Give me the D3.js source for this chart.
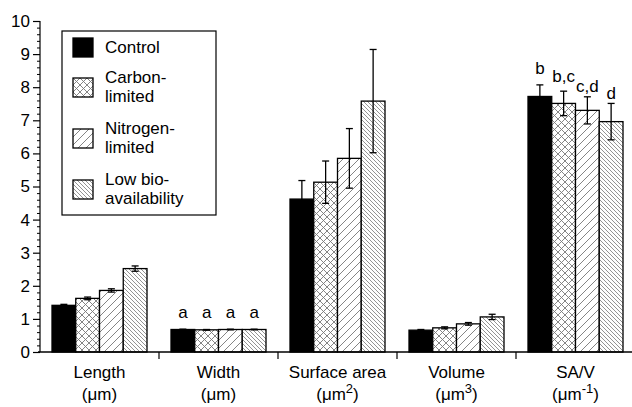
<!DOCTYPE html>
<html>
<head>
<meta charset="utf-8">
<script src="https://cdn.jsdelivr.net/npm/d3@7"></script>
<style>
  body { margin: 0; background: #fff; }
  svg { font-family: "Liberation Sans", Arial, Helvetica, sans-serif; }
</style>
</head>
<body>
<svg id="chart" width="632" height="407"></svg>
<script>
// data
const categories = ["Length", "Width", "Surface area", "Volume", "SA/V"];
const units = [["μm", ""], ["μm", ""], ["μm", "2"], ["μm", "3"], ["μm", "-1"]];
const series = ["Control", "Carbon-limited", "Nitrogen-limited", "Low bioavailability"];
const legendLines = [["Control"], ["Carbon-", "limited"], ["Nitrogen-", "limited"], ["Low bio-", "availability"]];

const control = [1.41, 0.68, 4.62, 0.66, 7.72];
const carbonLimited = [1.62, 0.67, 5.13, 0.73, 7.51];
const nitrogenLimited = [1.86, 0.68, 5.85, 0.85, 7.30];
const lowBio = [2.52, 0.68, 7.58, 1.06, 6.96];

const controlErr = [0.03, 0.01, 0.56, 0.02, 0.35];
const carbonErr = [0.04, 0.01, 0.64, 0.03, 0.37];
const nitrogenErr = [0.05, 0.01, 0.90, 0.04, 0.41];
const lowBioErr = [0.08, 0.01, 1.56, 0.08, 0.55];

const widthLetters = ["a", "a", "a", "a"];
const widthLetterLevel = [1.03, 1.03, 1.03, 1.03];
const savLetters = ["b", "b,c", "c,d", "d"];
const savLetterLevel = [8.4, 8.16, 7.85, 7.64];

const yTicks = [0, 1, 2, 3, 4, 5, 6, 7, 8, 9, 10];

const means = [control, carbonLimited, nitrogenLimited, lowBio];
const errs = [controlErr, carbonErr, nitrogenErr, lowBioErr];
const fills = ["#000", "url(#cross)", "url(#fwd)", "url(#back)"];
const fontSize = 17;

const svg = d3.select("#chart");
const defs = svg.append("defs");

// hatching
function pattern(id, size, paths, color) {
    const p = defs.append("pattern")
        .attr("id", id)
        .attr("patternUnits", "userSpaceOnUse")
        .attr("width", size)
        .attr("height", size);
    p.append("rect").attr("width", size).attr("height", size).attr("fill", "#fff");
    paths.forEach(d => p.append("path").attr("d", d)
        .attr("stroke", color).attr("stroke-width", 0.9).attr("fill", "none"));
}
pattern("cross", 7, ["M0,0L7,7M-1,6L1,8M6,-1L8,1", "M0,7L7,0M-1,1L1,-1M6,8L8,6"], "#777");
pattern("fwd", 8, ["M0,8L8,0M-2,2L2,-2M6,10L10,6"], "#777");
pattern("back", 4, ["M0,0L4,4M-1,3L1,5M3,-1L5,1"], "#888");

const y = d3.scaleLinear().domain([0, 10]).range([352, 21]);
const x0 = d3.scaleBand().domain(categories).range([40, 635]);
const x1 = d3.scaleBand().domain(series).range([12, 107]);

// bars
const groups = svg.append("g").selectAll("g")
    .data(categories)
    .join("g")
    .attr("transform", c => `translate(${x0(c)},0)`);

groups.selectAll("rect")
    .data((c, ci) => series.map((s, si) => ({ s, si, v: means[si][ci], e: errs[si][ci] })))
    .join("rect")
    .attr("x", d => x1(d.s))
    .attr("y", d => y(d.v))
    .attr("width", x1.bandwidth())
    .attr("height", d => y(0) - y(d.v))
    .attr("fill", d => fills[d.si])
    .attr("stroke", "#000")
    .attr("stroke-width", 1.3);

// error bars
const eb = groups.selectAll("g.err")
    .data((c, ci) => series.map((s, si) => ({ s, si, v: means[si][ci], e: errs[si][ci] })))
    .join("g")
    .attr("class", "err")
    .attr("stroke", "#000")
    .attr("stroke-width", 1.3);
const cx = d => x1(d.s) + x1.bandwidth() / 2;
eb.append("line")
    .attr("x1", cx).attr("x2", cx)
    .attr("y1", d => y(d.v - d.e)).attr("y2", d => y(d.v + d.e));
[1, -1].forEach(sign => eb.append("line")
    .attr("x1", d => cx(d) - 3.5).attr("x2", d => cx(d) + 3.5)
    .attr("y1", d => y(d.v + sign * d.e)).attr("y2", d => y(d.v + sign * d.e)));

// significance letters
function letters(cat, labels, levels) {
    svg.append("g").selectAll("text")
        .data(labels)
        .join("text")
        .attr("x", (t, i) => x0(cat) + x1(series[i]) + x1.bandwidth() / 2)
        .attr("y", (t, i) => y(levels[i]))
        .attr("text-anchor", "middle")
        .attr("font-size", fontSize)
        .text(t => t);
}
letters("Width", widthLetters, widthLetterLevel);
letters("SA/V", savLetters, savLetterLevel);

// y axis with minor ticks
const yAxis = svg.append("g")
    .attr("transform", "translate(40,0)")
    .call(d3.axisLeft(y).tickValues(yTicks).tickSize(7).tickPadding(3).tickFormat(d3.format("d")));
yAxis.select(".domain").attr("d", `M0,${y(0)}V${y(10)}`).attr("stroke-width", 1.2);
yAxis.selectAll("text").attr("font-size", fontSize).attr("fill", "#000").attr("font-family", null);
yAxis.selectAll(".tick line").attr("stroke-width", 1.2);
svg.append("g")
    .attr("transform", "translate(40,0)")
    .call(d3.axisLeft(y).tickValues(d3.range(0, 50).map(i => i * 0.2).filter(v => Math.round(v * 5) % 5 !== 0)).tickSize(3).tickFormat(""))
    .call(g => g.select(".domain").remove());

// x axis
svg.append("line")
    .attr("x1", 38).attr("x2", 632)
    .attr("y1", y(0)).attr("y2", y(0))
    .attr("stroke", "#000").attr("stroke-width", 1.3);
svg.append("g").selectAll("line")
    .data(categories.slice(1))
    .join("line")
    .attr("x1", c => x0(c)).attr("x2", c => x0(c))
    .attr("y1", y(0)).attr("y2", y(0) + 7)
    .attr("stroke", "#000").attr("stroke-width", 1.2);

const catLabel = svg.append("g").selectAll("text")
    .data(categories)
    .join("text")
    .attr("text-anchor", "middle")
    .attr("font-size", fontSize)
    .attr("x", c => x0(c) + x0.bandwidth() / 2);
catLabel.append("tspan").attr("x", c => x0(c) + x0.bandwidth() / 2).attr("y", 378).text(c => c);
const unitLine = catLabel.append("tspan").attr("x", c => x0(c) + x0.bandwidth() / 2).attr("y", 400);
unitLine.append("tspan").text((c, i) => "(" + units[i][0]);
unitLine.append("tspan").attr("dy", (c, i) => units[i][1] ? -7 : 0).attr("font-size", 13).text((c, i) => units[i][1]);
unitLine.append("tspan").attr("dy", (c, i) => units[i][1] ? 7 : 0).text(")");

// legend
const legend = svg.append("g");
legend.append("rect")
    .attr("x", 62).attr("y", 31).attr("width", 154).attr("height", 184)
    .attr("fill", "#fff").attr("stroke", "#000").attr("stroke-width", 1.2);
const rowY = [38, 78, 129, 180];
const item = legend.selectAll("g.item")
    .data(series)
    .join("g")
    .attr("transform", (s, i) => `translate(73,${rowY[i]})`);
item.append("rect")
    .attr("width", 20).attr("height", 19)
    .attr("fill", (s, i) => fills[i])
    .attr("stroke", "#000").attr("stroke-width", 1.3);
item.each(function (s, i) {
    const lines = legendLines[i];
    const first = lines.length === 1 ? 15 : 5;
    d3.select(this).selectAll("text")
        .data(lines)
        .join("text")
        .attr("x", 32)
        .attr("y", (t, j) => first + j * 18.5)
        .attr("font-size", fontSize)
        .text(t => t);
});
</script>
</body>
</html>
